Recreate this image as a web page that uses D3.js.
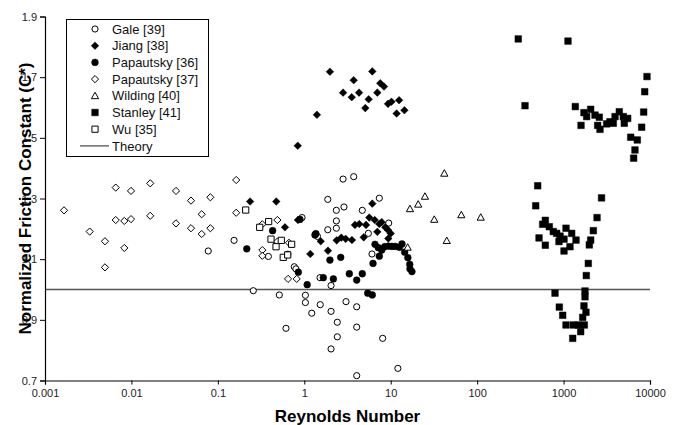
<!DOCTYPE html>
<html>
<head>
<meta charset="utf-8">
<script src="https://cdn.jsdelivr.net/npm/d3@7"></script>
<style>
  body { margin: 0; background: #fff; }
  svg { display: block; font-family: Arial, "Liberation Sans", sans-serif; }
</style>
</head>
<body>
<div id="chart"></div>
<script>
// Reynolds number vs normalized friction constant (C*)
const xTicks = [0.001, 0.01, 0.1, 1, 10, 100, 1000, 10000];
const yTicks = [0.7, 0.9, 1.1, 1.3, 1.5, 1.7, 1.9];
const theory = 1.0;

const gale = [
  [0.0774,1.127],[0.154,1.162],[2.81,1.364],[3.73,1.372],[1.87,1.297],[2.35,1.261],[2.88,1.272],
  [2.35,1.226],[2.35,1.202],[1.87,1.197],[0.942,1.237],[4.69,1.261],[7.38,1.301],[9.48,1.219],
  [5.51,1.185],[6.07,1.117],[1.42,1.175],[0.384,1.109],[0.766,1.075],[0.80,1.068],[1.52,1.039],
  [2.04,1.013],[0.257,0.996],[0.514,0.982],[1.03,0.981],[1.03,0.957],[1.53,0.950],[1.22,0.922],
  [2.04,0.928],[3.04,0.960],[4.04,0.943],[2.41,0.892],[4.04,0.876],[0.614,0.872],[2.41,0.844],
  [8.07,0.839],[2.04,0.804],[4.04,0.716],[12.1,0.740]
];
const jiang = [
  [0.236,1.290],[0.474,1.290],[0.598,1.205],[0.845,1.229],[1.55,1.159],[1.175,1.117],[1.88,1.128],
  [2.37,1.162],[2.68,1.171],[3.01,1.167],[3.56,1.163],[3.86,1.213],[4.33,1.216],[5.18,1.213],
  [4.87,1.172],[5.65,1.237],[6.12,1.283],[6.53,1.229],[7.0,1.190],[7.38,1.216],[7.87,1.222],
  [8.65,1.205],[9.31,1.196],[10.0,1.185],[9.38,1.168],
  [0.84,1.474],[1.40,1.576],[1.98,1.718],[3.73,1.690],[2.81,1.649],[3.54,1.634],[4.30,1.649],
  [5.56,1.627],[5.08,1.598],[6.12,1.719],[7.0,1.649],[7.57,1.680],[8.36,1.669],[9.31,1.612],
  [10.2,1.619],[12.5,1.624],[11.7,1.580],[14.4,1.591]
];
const papautsky36 = [
  [0.216,1.134],[0.43,1.194],[0.643,1.116],[0.853,1.057],[0.891,1.231],[1.08,1.016],[1.33,1.180],
  [1.36,1.184],[1.66,1.039],[1.98,1.097],[2.17,1.035],[2.64,1.106],[3.32,1.052],[4.04,1.031],
  [4.69,1.052],[5.42,0.988],[6.12,0.982],[6.24,1.086],[6.58,1.149],[7.38,1.110],[7.87,1.130],
  [8.51,1.141],[9.38,1.143],[10.3,1.142],[11.3,1.142],[12.6,1.139],[13.5,1.150],[14.5,1.123],
  [15.8,1.105],[16.6,1.083],[16.7,1.068],[17.6,1.059],[7.18,1.138]
];
const papautsky37 = [
  [0.00166,1.261],[0.00329,1.191],[0.00494,1.159],[0.00494,1.073],[0.00658,1.336],[0.00658,1.229],
  [0.00827,1.226],[0.00827,1.137],[0.00989,1.325],[0.00989,1.232],[0.0165,1.350],[0.0165,1.243],
  [0.0328,1.325],[0.0328,1.218],[0.0489,1.293],[0.0489,1.202],[0.065,1.248],[0.065,1.183],
  [0.0819,1.304],[0.0819,1.202],[0.163,1.361],[0.163,1.253],[0.327,1.215],[0.488,1.229],
  [0.488,1.158],[0.665,1.154],[0.327,1.130],[0.327,1.111],[0.649,1.035],[0.817,1.035]
];
const wilding = [
  [41.7,1.383],[16.7,1.266],[20.8,1.281],[24.9,1.307],[31.9,1.231],[44.5,1.161],[65.6,1.246],
  [110,1.238],[15.7,1.139]
];
const stanley = [
  [299,1.826],[1125,1.819],[358,1.606],[9230,1.702],[8690,1.652],[8450,1.585],[8010,1.535],
  [5980,1.502],[7130,1.493],[6700,1.460],[6470,1.433],[1367,1.603],[1592,1.541],[1722,1.583],
  [1850,1.570],[2060,1.594],[2310,1.575],[2590,1.568],[2480,1.541],[2640,1.528],[3150,1.546],
  [3440,1.553],[3760,1.548],[3940,1.570],[4410,1.586],[4910,1.570],[5040,1.548],[5520,1.564],
  [502,1.342],[2750,1.302],[476,1.276],[2440,1.237],[2210,1.194],[2060,1.163],[1985,1.147],
  [1932,1.086],[1832,1.046],[1770,0.995],[1770,0.976],[1722,0.946],[1816,0.925],[1665,0.908],
  [1738,0.883],[1480,0.883],[1297,0.883],[1067,0.883],[1578,0.861],[1276,0.839],[977,0.915],
  [893,0.942],[796,0.988],[615,1.228],[573,1.215],[684,1.207],[760,1.191],[832,1.185],[910,1.176],
  [1067,1.202],[1242,1.185],[1012,1.166],[1393,1.163],[1186,1.141],[1012,1.127],[520,1.170],
  [615,1.146],[885,1.158]
];
const wu = [
  [0.21,1.262],[0.387,1.224],[0.305,1.205],[0.412,1.166],[0.542,1.162],[0.714,1.149],[0.471,1.141],
  [0.571,1.106],[0.643,1.114]
];

const seriesNames = ['Gale [39]', 'Jiang [38]', 'Papautsky [36]', 'Papautsky [37]', 'Wilding [40]', 'Stanley [41]', 'Wu [35]'];
const seriesData = [gale, jiang, papautsky36, papautsky37, wilding, stanley, wu];
const seriesShape = ['circle', 'diamond', 'circle', 'diamond', 'triangle', 'square', 'square'];
const seriesFilled = [false, true, true, false, false, true, false];

const W = 678, H = 425;
const margin = {left: 45, right: 28, top: 16.5, bottom: 44.5};

const svg = d3.select('#chart').append('svg')
  .attr('width', W).attr('height', H);

const x = d3.scaleLog().domain([0.001, 10000]).range([margin.left, W - margin.right]);
const y = d3.scaleLinear().domain([0.7, 1.9]).range([H - margin.bottom, margin.top]);

const shapePath = (shape, filled) => {
  if (shape === 'circle') {
    const r = filled ? 3.4 : 3.1;
    return d3.symbol(d3.symbolCircle, Math.PI * r * r)();
  }
  if (shape === 'square') {
    const r = filled ? 3.3 : 3.1;
    return `M${-r},${-r}h${2 * r}v${2 * r}h${-2 * r}Z`;
  }
  if (shape === 'diamond') {
    const r = filled ? 3.8 : 3.6;
    return `M0,${-r}L${r},0L0,${r}L${-r},0Z`;
  }
  const r = 3.6;
  return `M0,${-r}L${r},${r * 0.8}L${-r},${r * 0.8}Z`;
};

// theory line
svg.append('line')
  .attr('x1', x(0.001)).attr('x2', x(10000))
  .attr('y1', y(theory)).attr('y2', y(theory))
  .attr('stroke', '#555').attr('stroke-width', 1.3);

// axes
const xAxis = svg.append('g')
  .attr('transform', `translate(0,${y(0.7)})`)
  .call(d3.axisBottom(x).tickValues(xTicks).tickFormat(d => String(d)).tickSize(4).tickPadding(5));
const yAxis = svg.append('g')
  .attr('transform', `translate(${x(0.001)},0)`)
  .call(d3.axisLeft(y).tickValues(yTicks).tickFormat(d3.format('.1f')).tickSize(5).tickPadding(3));
[xAxis, yAxis].forEach(g => {
  g.select('.domain').attr('stroke', '#000').attr('stroke-width', 1.2);
  g.selectAll('.tick line').attr('stroke', '#000');
  g.selectAll('text').attr('font-size', 11).attr('fill', '#222')
    .attr('font-family', 'Arial, "Liberation Sans", sans-serif');
});

// markers
seriesData.forEach((data, i) => {
  svg.append('g')
    .selectAll('path')
    .data(data)
    .enter()
    .append('path')
      .attr('d', shapePath(seriesShape[i], seriesFilled[i]))
      .attr('transform', d => `translate(${x(d[0])},${y(d[1])})`)
      .attr('fill', seriesFilled[i] ? '#000' : '#fff')
      .attr('stroke', '#000')
      .attr('stroke-width', seriesFilled[i] ? 0.5 : 1);
});

// axis titles
svg.append('text')
  .attr('x', (x(0.001) + x(10000)) / 2).attr('y', 422)
  .attr('text-anchor', 'middle')
  .attr('font-size', 17).attr('font-weight', 'bold')
  .text('Reynolds Number');
svg.append('text')
  .attr('transform', `translate(31,${(y(0.7) + y(1.9)) / 2})rotate(-90)`)
  .attr('text-anchor', 'middle')
  .attr('font-size', 17).attr('font-weight', 'bold')
  .text('Normalized Friction Constant (C*)');

// legend
const legend = svg.append('g');
legend.append('rect')
  .attr('x', 66.5).attr('y', 19.5).attr('width', 142).attr('height', 137)
  .attr('fill', '#fff').attr('stroke', '#000').attr('stroke-width', 1);
const rowY = i => 29 + i * 16.7;
seriesNames.forEach((name, i) => {
  legend.append('path')
    .attr('d', shapePath(seriesShape[i], seriesFilled[i]))
    .attr('transform', `translate(95,${rowY(i)})`)
    .attr('fill', seriesFilled[i] ? '#000' : '#fff')
    .attr('stroke', '#000')
    .attr('stroke-width', seriesFilled[i] ? 0.5 : 1);
  legend.append('text')
    .attr('x', 112).attr('y', rowY(i)).attr('dy', '0.36em')
    .attr('font-size', 13).attr('fill', '#111')
    .text(name);
});
legend.append('line')
  .attr('x1', 80).attr('x2', 109).attr('y1', rowY(7)).attr('y2', rowY(7))
  .attr('stroke', '#555').attr('stroke-width', 1.3);
legend.append('text')
  .attr('x', 112).attr('y', rowY(7)).attr('dy', '0.36em')
  .attr('font-size', 13).attr('fill', '#111')
  .text('Theory');
</script>
</body>
</html>
